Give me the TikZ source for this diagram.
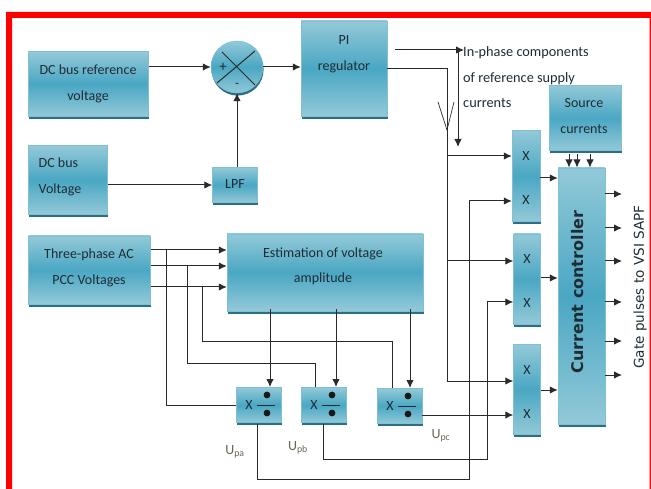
\documentclass[tikz,border=0pt]{standalone}
\usepackage{fontspec}
\setmainfont{Carlito}
\newfontfamily\heavyfont{DejaVu Sans}
\usetikzlibrary{arrows.meta,shadows}
\definecolor{boxlight}{HTML}{93C9D8}
\definecolor{boxmid}{HTML}{4AA7C3}
\definecolor{boxedge}{HTML}{7FC0D2}
\definecolor{boxdark}{HTML}{2C6F84}
\definecolor{inktext}{HTML}{1F2C34}
\definecolor{inkline}{HTML}{2A2A2A}
\definecolor{subtext}{HTML}{6B6358}
\tikzset{
  boxnode/.style={rectangle,draw=boxedge,line width=0.5pt,top color=boxlight,bottom color=boxlight,middle color=boxmid,inner sep=0pt,
    general shadow={fill=boxdark,shadow xshift=0.6pt,shadow yshift=-2.6pt},text=inktext,align=center},
  txt/.style={text=inktext,align=center,inner sep=0pt,font=\fontsize{14}{25.5}\selectfont},
  plainline/.style={draw=inkline,line width=1pt},
  arr/.style={plainline,-{Latex[length=8pt,width=7.5pt]}},
  sub/.style={text=subtext,inner sep=0pt,font=\fontsize{14}{15}\selectfont}
}
\newcommand{\drawdivider}[2]{%
  \draw[line width=1pt,draw=inkline] (#1+8,#2) -- (#1+26,#2);
  \fill[black!90] (#1+18,#2-10) circle (3.4);
  \fill[black!90] (#1+18,#2+8) circle (3.4);
  \node[txt] at (#1,#2) {X};
}
\begin{document}
\begin{tikzpicture}[x=1pt,y=-1pt]
\useasboundingbox (0,0) rectangle (651,489);
\fill[white] (0,0) rectangle (651,489);
\fill[red,even odd rule] (6,12) rectangle (651,489) (12,18) rectangle (649.5,489);

% boxes
\node[boxnode,minimum width=120pt,minimum height=65pt] (dcref) at (88.5,84) {};
\node[txt] (dcreft) at (88,84) {DC bus reference\\voltage};
\node[boxnode,minimum width=79pt,minimum height=69pt] (dcbus) at (68,180) {};
\node[txt,align=left] (dcbust) at (60,177) {DC bus\\Voltage};
\node[boxnode,circle,minimum size=52pt] (sum) at (237,67) {};
\node[boxnode,minimum width=45pt,minimum height=35pt] (lpf) at (235,185) {};
\node[txt] (lpft) at (235,184) {LPF};
\node[boxnode,minimum width=86pt,minimum height=95pt] (pi) at (344,68.5) {};
\node[txt] (pit) at (344,54) {PI\\regulator};
\node[boxnode,minimum width=122pt,minimum height=68pt] (acv) at (89.5,270) {};
\node[txt] (acvt) at (89,268) {Three-phase AC\\PCC Voltages};
\node[boxnode,minimum width=196pt,minimum height=77pt] (est) at (325,272.5) {};
\node[txt] (estt) at (323,266.5) {Estimation of voltage\\amplitude};
\node[boxnode,minimum width=45pt,minimum height=35pt] (diva) at (258.5,405) {};
\node[boxnode,minimum width=45pt,minimum height=35pt] (divb) at (323.5,405) {};
\node[boxnode,minimum width=45pt,minimum height=35pt] (divc) at (399.5,406) {};
\node[boxnode,minimum width=28pt,minimum height=91pt] (xa) at (526,176) {};
\node[boxnode,minimum width=27pt,minimum height=90pt] (xb) at (527,279) {};
\node[boxnode,minimum width=27pt,minimum height=90pt] (xc) at (527,389.5) {};
\node[boxnode,minimum width=47pt,minimum height=256pt] (cc) at (581.5,296) {};
\node[boxnode,minimum width=72pt,minimum height=65pt] (src) at (585,118) {};
\node[txt] (srct) at (584,116) {Source\\currents};
\node[txt,rotate=90,font=\heavyfont\bfseries\fontsize{16}{18}\selectfont] (cct) at (577.5,292) {Current controller};
\node[txt,rotate=90,font=\heavyfont\fontsize{13.6}{15}\selectfont] (gate) at (640,287) {Gate pulses to VSI SAPF};

% box contents
\node[txt] (xa1) at (526,156) {X};
\node[txt] (xa2) at (526,200) {X};
\node[txt] (xb1) at (527,259) {X};
\node[txt] (xb2) at (527,303) {X};
\node[txt] (xc1) at (527,370) {X};
\node[txt] (xc2) at (527,414) {X};
\drawdivider{249}{405}
\drawdivider{314}{405}
\drawdivider{390}{406}
\draw[plainline] (222,52) -- (255,85) (255,51) -- (217,83);
\node[txt,font=\fontsize{15}{15}\selectfont] (plus) at (223,67) {+};
\node[txt,font=\fontsize{13}{13}\selectfont] (minus) at (237,85) {-};

% labels
\node[txt,align=left,anchor=north west,font=\fontsize{14.3}{25.5}\selectfont] (inph) at (463,46.5) {In-phase components\\of reference supply\\currents};
\node[sub] (upa) at (235,452) {U\textsubscript{pa}};
\node[sub] (upb) at (298,448) {U\textsubscript{pb}};
\node[sub] (upc) at (441,436) {U\textsubscript{pc}};

% top connections
\draw[arr] (dcref.east |- sum) -- (sum.west);
\draw[arr] (sum.east) -- (pi.west |- sum);
\draw[arr] (dcbus.east |- lpf) -- (lpf.west);
\draw[arr] (lpf.north -| sum) -- (sum.south);

\coordinate (rt) at (395,50);
\coordinate (rj) at (458,50);
\coordinate (re) at (464,50);
\coordinate (rd) at (458,147);
\draw[arr] (rt) -- (re);
\draw[arr] (rj) -- (rd);

\coordinate (pa) at (447,69);
\coordinate (pb) at (447,381);
\draw[plainline] (pi.east |- pa) -- (pa) -- (pb);
\draw[arr] (447,156) -- (xa.west |- 0,156);
\draw[arr] (447,261) -- (xb.west |- 0,261);
\draw[arr] (pb) -- (xc.west |- pb);
\draw[plainline,line width=0.7pt] (438,102) -- (447,130) -- (454,102);

% three-phase lines
\foreach \yy in {250,266,287} {\draw[arr] (acv.east |- 0,\yy) -- (est.west |- 0,\yy);}
\draw[plainline] (166,250) |- (diva.west);
\draw[plainline] (187,266) |- (315,363) -- (315,387);
\draw[plainline] (202,287) |- (392,341) -- (392,388);
\draw[arr] (est.south -| 270,0) ++(0,-2) -- (270,387);
\draw[arr] (est.south -| 336,0) ++(0,-2) -- (336,387);
\draw[arr] (est.south -| 410,0) ++(0,-2) -- (410,388);

% outputs of divider blocks
\draw[arr] (257,424) |- (469,479) -- (469,201) -- (xa.west |- 0,201);
\draw[arr] (323,424) |- (487,459) -- (487,302) -- (xb.west |- 0,302);
\draw[arr] (divc.east |- 0,415) -- (xc.west |- 0,415);

% products to current controller
\draw[arr] (xa.east |- 0,178) -- (cc.west |- 0,178);
\draw[arr] (xb.east |- 0,278) -- (cc.west |- 0,278);
\draw[arr] (xc.east |- 0,390) -- (cc.west |- 0,390);

% source currents
\foreach \xx in {569,577,590} {\draw[arr] (\xx,154) -- (\xx,167.5);}

% gate outputs
\foreach \yy in {194,228,261,302,341,375} {\draw[arr] (cc.east |- 0,\yy) -- (622,\yy);}
\end{tikzpicture}
\end{document}
